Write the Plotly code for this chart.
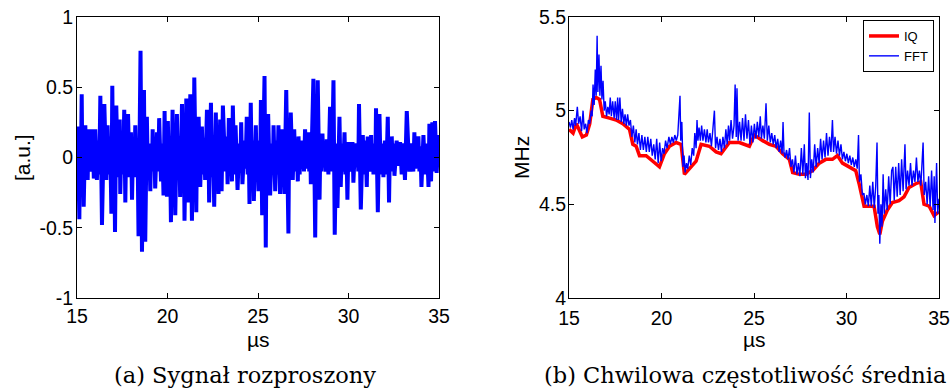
import plotly.graph_objects as go

# ---------------- data: (a) scattered signal ----------------
sig_t = [15.00, 15.04, 15.13, 15.17, 15.21, 15.26, 15.30, 15.33, 15.37, 15.46, 15.50, 15.55, 15.59, 15.64,
         15.75, 15.86, 15.93, 16.01, 16.10, 16.16, 16.23, 16.29, 16.38, 16.51, 16.62, 16.69, 16.76, 16.83,
         16.90, 16.95, 17.00, 17.05, 17.10, 17.17, 17.26, 17.36, 17.39, 17.46, 17.54, 17.61, 17.67, 17.72,
         17.77, 17.82, 17.90, 17.98, 18.04, 18.10, 18.16, 18.22, 18.28, 18.34, 18.40, 18.51, 18.59, 18.70,
         18.77, 18.86, 18.92, 18.99, 19.05, 19.10, 19.14, 19.18, 19.23, 19.27, 19.32, 19.42, 19.49, 19.54,
         19.64, 19.71, 19.78, 19.84, 19.88, 19.93, 19.97, 20.02, 20.08, 20.13, 20.19, 20.28, 20.33, 20.38,
         20.43, 20.52, 20.58, 20.64, 20.70, 20.80, 20.85, 20.90, 20.94, 21.04, 21.08, 21.12, 21.16, 21.26,
         21.35, 21.39, 21.44, 21.48, 21.59, 21.63, 21.68, 21.72, 21.81, 21.90, 21.96, 22.02, 22.08, 22.18,
         22.22, 22.26, 22.30, 22.40, 22.46, 22.52, 22.58, 22.67, 22.72, 22.77, 22.82, 22.91, 22.99, 23.06,
         23.19, 23.26, 23.32, 23.39, 23.45, 23.50, 23.56, 23.61, 23.69, 23.76, 23.87, 23.96, 24.02, 24.07,
         24.14, 24.26, 24.31, 24.38, 24.43, 24.48, 24.53, 24.60, 24.66, 24.71, 24.77, 24.88, 24.93, 24.98,
         25.03, 25.08, 25.12, 25.16, 25.23, 25.36, 25.43, 25.47, 25.52, 25.56, 25.67, 25.76, 25.82, 25.86,
         25.95, 26.01, 26.07, 26.13, 26.22, 26.32, 26.37, 26.41, 26.46, 26.56, 26.68, 26.72, 26.77, 26.81,
         26.92, 27.00, 27.07, 27.13, 27.20, 27.24, 27.30, 27.36, 27.42, 27.48, 27.54, 27.60, 27.70, 27.79,
         27.83, 27.88, 27.92, 28.06, 28.16, 28.21, 28.25, 28.30, 28.40, 28.45, 28.50, 28.56, 28.62, 28.68,
         28.74, 28.80, 28.89, 28.98, 29.08, 29.17, 29.24, 29.32, 29.39, 29.50, 29.57, 29.64, 29.71, 29.78,
         29.83, 29.88, 29.94, 30.00, 30.12, 30.22, 30.27, 30.36, 30.46, 30.50, 30.54, 30.58, 30.68, 30.79,
         30.86, 30.94, 31.01, 31.06, 31.16, 31.25, 31.30, 31.34, 31.38, 31.43, 31.48, 31.52, 31.62, 31.71,
         31.78, 31.86, 31.93, 32.01, 32.09, 32.17, 32.24, 32.29, 32.34, 32.39, 32.44, 32.49, 32.54, 32.66,
         32.76, 32.85, 32.94, 33.03, 33.12, 33.22, 33.36, 33.47, 33.58, 33.64, 33.69, 33.75, 33.80, 33.86,
         33.92, 33.97, 34.03, 34.14, 34.23, 34.33, 34.42, 34.47, 34.56, 34.63, 34.69, 34.78, 34.87, 34.98,
         35.00]
sig_v = [0.05, 0.22, -0.44, 0.12, -0.10, 0.45, -0.14, 0.10, -0.35, 0.23, -0.12, 0.14, -0.16, 0.20,
         -0.10, 0.20, -0.15, 0.20, -0.16, 0.12, -0.12, 0.44, -0.48, 0.38, -0.16, 0.23, -0.12, 0.15,
         -0.40, 0.51, -0.15, 0.12, -0.53, 0.37, -0.14, 0.27, -0.26, 0.14, -0.12, 0.34, -0.32, 0.12,
         -0.14, 0.31, -0.14, 0.18, -0.30, 0.12, -0.14, 0.23, -0.12, 0.13, -0.56, 0.76, -0.67, 0.48,
         -0.60, 0.29, -0.14, 0.10, -0.24, 0.10, -0.10, 0.20, -0.10, 0.10, -0.22, 0.18, -0.10, 0.28,
         -0.17, 0.10, -0.27, 0.33, -0.12, 0.12, -0.28, 0.26, -0.14, 0.12, -0.46, 0.34, -0.12, 0.14,
         -0.41, 0.31, -0.12, 0.15, -0.28, 0.38, -0.14, 0.12, -0.45, 0.42, -0.12, 0.14, -0.32, 0.45,
         -0.45, 0.14, -0.12, 0.57, -0.39, 0.12, -0.14, 0.29, -0.21, 0.22, -0.12, 0.14, -0.16, 0.34,
         -0.12, 0.12, -0.32, 0.39, -0.14, 0.13, -0.35, 0.32, -0.12, 0.14, -0.26, 0.27, -0.24, 0.37,
         -0.10, 0.15, -0.19, 0.28, -0.12, 0.12, -0.17, 0.37, -0.12, 0.23, -0.23, 0.10, -0.10, 0.25,
         -0.19, 0.12, -0.08, 0.29, -0.12, 0.14, -0.33, 0.39, -0.14, 0.12, -0.31, 0.23, -0.12, 0.12,
         -0.24, 0.12, -0.12, 0.41, -0.41, 0.58, -0.64, 0.14, -0.12, 0.31, -0.27, 0.10, -0.10, 0.23,
         -0.24, 0.12, -0.12, 0.23, -0.26, 0.20, -0.12, 0.12, -0.26, 0.48, -0.54, 0.12, -0.10, 0.32,
         -0.16, 0.20, -0.10, 0.12, -0.17, 0.15, -0.12, 0.12, -0.08, 0.12, -0.10, 0.20, -0.08, 0.18,
         -0.10, 0.10, -0.19, 0.56, -0.57, 0.12, -0.12, 0.55, -0.30, 0.12, -0.10, 0.17, -0.07, 0.10,
         -0.10, 0.13, -0.12, 0.36, -0.10, 0.55, -0.55, 0.10, -0.36, 0.29, -0.21, 0.10, -0.10, 0.18,
         -0.12, 0.10, -0.30, 0.11, -0.10, 0.11, -0.18, 0.10, -0.07, 0.10, -0.10, 0.38, -0.37, 0.16,
         -0.12, 0.12, -0.21, 0.15, -0.10, 0.16, -0.10, 0.10, -0.12, 0.10, -0.10, 0.35, -0.39, 0.31,
         -0.12, 0.10, -0.14, 0.12, -0.12, 0.29, -0.32, 0.10, -0.10, 0.15, -0.08, 0.10, -0.13, 0.12,
         -0.06, 0.11, -0.12, 0.10, -0.16, 0.33, -0.10, 0.10, -0.10, 0.18, -0.08, 0.08, -0.03, 0.15,
         -0.10, 0.08, -0.21, 0.16, -0.12, 0.10, -0.21, 0.24, -0.17, 0.25, -0.10, 0.26, -0.11, 0.16,
         0.10]

# ---------------- data: (b) mean instantaneous frequency ----------------
iq_t = [15.00, 15.22, 15.40, 15.58, 15.72, 15.94, 16.12, 16.29, 16.47, 16.65, 16.83, 17.19, 17.55, 17.91,
        18.27, 18.45, 18.63, 18.81, 19.17, 19.53, 19.89, 20.16, 20.43, 20.79, 21.06, 21.24, 21.51, 21.87,
        22.14, 22.59, 22.95, 23.22, 23.67, 24.21, 24.75, 25.02, 25.47, 25.83, 26.19, 26.55, 26.91, 27.09,
        27.45, 27.81, 28.17, 28.53, 28.88, 29.24, 29.51, 29.78, 30.14, 30.50, 30.68, 30.95, 31.22, 31.49,
        31.67, 31.80, 31.94, 32.21, 32.48, 32.84, 33.11, 33.38, 33.74, 34.01, 34.19, 34.47, 34.73, 35.00]
iq_v = [4.90, 4.88, 4.93, 4.89, 4.86, 4.87, 4.93, 5.06, 5.07, 5.06, 4.97, 4.96, 4.95, 4.93,
        4.90, 4.82, 4.81, 4.76, 4.76, 4.73, 4.70, 4.77, 4.81, 4.83, 4.82, 4.66, 4.69, 4.73,
        4.82, 4.81, 4.78, 4.77, 4.83, 4.83, 4.81, 4.87, 4.84, 4.82, 4.81, 4.77, 4.74, 4.67,
        4.66, 4.66, 4.68, 4.72, 4.74, 4.74, 4.76, 4.72, 4.70, 4.68, 4.61, 4.49, 4.49, 4.49,
        4.38, 4.34, 4.41, 4.47, 4.51, 4.52, 4.54, 4.59, 4.61, 4.62, 4.50, 4.49, 4.44, 4.46]

fft_t = [15.00, 15.08, 15.15, 15.22, 15.30, 15.36, 15.45, 15.52, 15.60, 15.68, 15.76, 15.82, 15.90, 15.97,
         16.05, 16.12, 16.20, 16.25, 16.30, 16.36, 16.42, 16.47, 16.52, 16.56, 16.62, 16.67, 16.73, 16.78,
         16.84, 16.90, 16.96, 17.03, 17.10, 17.17, 17.23, 17.29, 17.36, 17.44, 17.50, 17.57, 17.63, 17.68,
         17.75, 17.82, 17.89, 17.96, 18.03, 18.10, 18.17, 18.24, 18.32, 18.40, 18.48, 18.56, 18.63, 18.70,
         18.78, 18.86, 18.94, 19.02, 19.10, 19.18, 19.26, 19.34, 19.42, 19.50, 19.58, 19.66, 19.74, 19.82,
         19.90, 19.98, 20.06, 20.14, 20.22, 20.30, 20.40, 20.48, 20.56, 20.64, 20.72, 20.80, 20.88, 21.00,
         21.04, 21.10, 21.16, 21.22, 21.28, 21.35, 21.42, 21.50, 21.58, 21.66, 21.74, 21.80, 21.87, 21.92,
         21.97, 22.03, 22.10, 22.17, 22.24, 22.32, 22.40, 22.47, 22.54, 22.62, 22.70, 22.78, 22.86, 22.92,
         23.00, 23.08, 23.16, 23.24, 23.32, 23.40, 23.48, 23.55, 23.62, 23.68, 23.76, 23.84, 23.92, 23.98,
         24.04, 24.08, 24.14, 24.22, 24.30, 24.38, 24.46, 24.54, 24.62, 24.70, 24.78, 24.86, 24.94, 25.02,
         25.10, 25.18, 25.26, 25.34, 25.40, 25.48, 25.56, 25.65, 25.72, 25.80, 25.88, 25.96, 26.04, 26.12,
         26.20, 26.28, 26.36, 26.44, 26.52, 26.57, 26.62, 26.68, 26.76, 26.84, 26.92, 27.00, 27.08, 27.16,
         27.24, 27.32, 27.40, 27.48, 27.56, 27.64, 27.72, 27.78, 27.84, 27.92, 27.99, 28.05, 28.12, 28.20,
         28.28, 28.36, 28.44, 28.52, 28.60, 28.68, 28.76, 28.84, 28.92, 29.00, 29.08, 29.16, 29.24, 29.30,
         29.38, 29.46, 29.54, 29.62, 29.70, 29.78, 29.86, 29.94, 30.02, 30.10, 30.18, 30.26, 30.34, 30.42,
         30.50, 30.58, 30.65, 30.70, 30.78, 30.86, 30.94, 31.02, 31.10, 31.18, 31.26, 31.34, 31.42, 31.50,
         31.58, 31.65, 31.70, 31.75, 31.80, 31.86, 31.92, 31.98, 32.04, 32.12, 32.20, 32.28, 32.36, 32.44,
         32.51, 32.58, 32.66, 32.74, 32.82, 32.90, 32.98, 33.06, 33.16, 33.22, 33.30, 33.38, 33.46, 33.54,
         33.62, 33.70, 33.78, 33.86, 33.94, 34.02, 34.08, 34.14, 34.20, 34.28, 34.36, 34.44, 34.52, 34.60,
         34.68, 34.74, 34.78, 34.87, 34.93, 35.00]
fft_v = [4.94, 4.91, 4.95, 4.90, 4.96, 4.92, 5.02, 4.93, 4.97, 4.89, 5.00, 4.90, 4.93, 4.88,
         4.95, 4.93, 5.00, 4.97, 5.14, 5.03, 5.22, 5.08, 5.40, 5.10, 5.30, 5.08, 5.24, 5.06,
         5.16, 5.00, 5.05, 4.97, 5.02, 4.98, 5.07, 4.97, 5.05, 4.96, 5.05, 4.95, 5.07, 4.95,
         5.07, 4.94, 5.01, 4.93, 4.98, 4.92, 4.98, 4.92, 4.95, 4.86, 4.92, 4.83, 4.90, 4.82,
         4.88, 4.79, 4.87, 4.79, 4.86, 4.78, 4.86, 4.78, 4.85, 4.76, 4.82, 4.74, 4.85, 4.72,
         4.83, 4.73, 4.80, 4.77, 4.84, 4.80, 4.86, 4.82, 4.86, 4.83, 4.87, 4.84, 4.87, 5.08,
         4.84, 4.94, 4.70, 4.76, 4.67, 4.72, 4.69, 4.76, 4.71, 4.80, 4.76, 4.88, 4.80, 4.95,
         4.84, 4.91, 4.84, 4.92, 4.84, 4.90, 4.83, 4.90, 4.83, 4.88, 4.81, 4.89, 5.00, 4.80,
         4.86, 4.79, 4.85, 4.78, 4.86, 4.80, 4.90, 4.82, 4.92, 4.84, 4.95, 4.85, 4.92, 5.14,
         4.86, 5.12, 4.84, 4.94, 4.84, 4.96, 4.84, 4.98, 4.85, 4.95, 4.82, 4.92, 4.83, 4.93,
         4.85, 4.94, 4.86, 4.97, 4.85, 4.92, 4.85, 5.04, 4.84, 4.92, 4.83, 4.88, 4.82, 4.87,
         4.80, 4.85, 4.78, 4.84, 4.77, 4.94, 4.78, 4.75, 4.79, 4.74, 4.80, 4.70, 4.74, 4.67,
         4.76, 4.66, 4.72, 4.65, 4.80, 4.66, 4.82, 4.64, 4.72, 4.63, 4.99, 4.64, 4.74, 4.67,
         4.82, 4.70, 4.80, 4.72, 4.85, 4.74, 4.84, 4.75, 4.88, 4.76, 4.86, 4.78, 4.95, 4.78,
         4.86, 4.77, 4.84, 4.76, 4.82, 4.74, 4.78, 4.73, 4.77, 4.72, 4.76, 4.71, 4.75, 4.70,
         4.74, 4.69, 4.87, 4.62, 4.66, 4.55, 4.56, 4.50, 4.55, 4.49, 4.60, 4.49, 4.62, 4.48,
         4.60, 4.83, 4.45, 4.55, 4.29, 4.50, 4.38, 4.66, 4.45, 4.58, 4.47, 4.65, 4.50, 4.68,
         4.70, 4.52, 4.70, 4.54, 4.72, 4.55, 4.74, 4.57, 4.82, 4.58, 4.68, 4.60, 4.72, 4.60,
         4.68, 4.62, 4.75, 4.62, 4.68, 4.60, 4.72, 4.83, 4.55, 4.62, 4.50, 4.65, 4.49, 4.68,
         4.47, 4.65, 4.40, 4.72, 4.45, 4.53]

x_ticks = [15, 20, 25, 30, 35]
left_yticks = [-1, -0.5, 0, 0.5, 1]
left_yticklabels = ["-1", "-0.5", "0", "0.5", "1"]
right_yticks = [4, 4.5, 5, 5.5]
right_yticklabels = ["4", "4.5", "5", "5.5"]

W, H = 951, 389
def px(x):
    return x / W
def py(y):
    return 1 - y / H

fig = go.Figure()
fig.add_trace(go.Scatter(x=sig_t, y=sig_v, mode="lines", line=dict(color="#0000ff", width=4),
                         xaxis="x", yaxis="y", showlegend=False))
fig.add_trace(go.Scatter(x=iq_t, y=iq_v, mode="lines", name="IQ", line=dict(color="#ff0000", width=3.5),
                         xaxis="x2", yaxis="y2"))
fig.add_trace(go.Scatter(x=fft_t, y=fft_v, mode="lines", name="FFT", line=dict(color="#0000ff", width=1.4),
                         xaxis="x2", yaxis="y2"))

tickfont = dict(family="Liberation Sans, Arial, sans-serif", size=19.5, color="black")
common = dict(showline=True, linecolor="black", linewidth=1.2, mirror="ticks", ticks="inside",
              ticklen=5, tickcolor="black", showgrid=False, zeroline=False, tickfont=tickfont,
              automargin=False)

fig.update_layout(
    template="none",
    width=W, height=H, margin=dict(l=0, r=0, t=0, b=0, autoexpand=False),
    paper_bgcolor="white", plot_bgcolor="white",
    xaxis=dict(domain=[px(77), px(439)], range=[15, 35], tickvals=x_ticks, anchor="y",
               ticklabelstandoff=0, **common),
    yaxis=dict(domain=[py(298), py(17)], range=[-1, 1], tickvals=left_yticks, ticktext=left_yticklabels,
               anchor="x", ticklabelstandoff=-1, **common),
    xaxis2=dict(domain=[px(569), px(939)], range=[15, 35], tickvals=x_ticks, anchor="y2",
                ticklabelstandoff=2, **common),
    yaxis2=dict(domain=[py(298), py(17)], range=[4, 5.5], tickvals=right_yticks, ticktext=right_yticklabels,
                anchor="x2", ticklabelstandoff=-2, **common),
    legend=dict(x=px(934), y=py(20), xanchor="right", yanchor="top", bgcolor="white",
                bordercolor="black", borderwidth=1,
                font=dict(family="Liberation Sans, Arial, sans-serif", size=13, color="black"),
                tracegroupgap=0, itemwidth=30),
)

lab = dict(family="Liberation Sans, Arial, sans-serif", size=21, color="black")
cap = dict(family="DejaVu Serif, serif", size=22.5, color="black")
ann = [
    dict(text="µs", x=px(258), y=py(339), font=lab),
    dict(text="µs", x=px(754), y=py(339), font=lab),
    dict(text="[a.u.]", x=px(22), y=py(158), font=lab, textangle=-90),
    dict(text="MHz", x=px(521), y=py(158), font=lab, textangle=-90),
    dict(text="(a) Sygnał rozproszony", x=px(245), y=py(375), font=cap),
    dict(text="(b) Chwilowa częstotliwość średnia", x=px(745), y=py(375), font=cap),
]
for a in ann:
    fig.add_annotation(xref="paper", yref="paper", showarrow=False, xanchor="center", yanchor="middle", **a)

fig.write_html("out.html")
